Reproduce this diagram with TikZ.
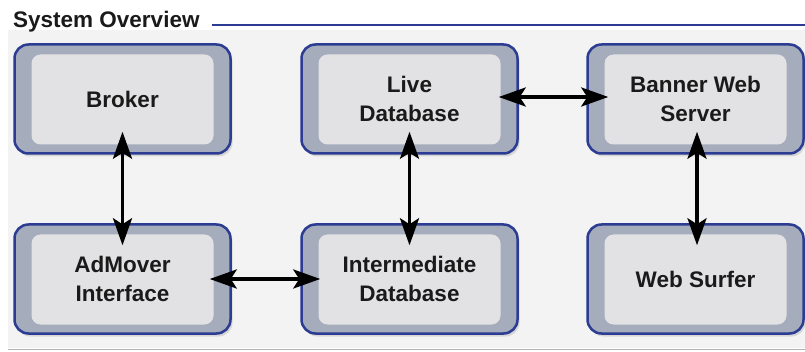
\documentclass[tikz,border=0pt]{standalone}
\usepackage{fontspec}
\setmainfont{Liberation Sans}
\usetikzlibrary{arrows.meta,shadows}
\definecolor{boxblue}{HTML}{2B3C92}
\definecolor{boxgray}{HTML}{A5ACBC}
\definecolor{innergray}{HTML}{E2E2E4}
\definecolor{panel}{HTML}{F3F3F3}
\definecolor{txt}{HTML}{1A1A1A}
\tikzset{
  sysbox/.style={draw=boxblue, line width=2.5pt, fill=boxgray, rounded corners=14pt,
    minimum width=216pt, minimum height=109pt, inner sep=0pt, align=center,
    font=\bfseries\fontsize{22.5}{29.5}\selectfont, text=txt,
    drop shadow={shadow xshift=2pt, shadow yshift=-3pt, opacity=0.25, fill=gray},
    path picture={\fill[innergray, rounded corners=9pt]
      ([shift={(17pt,-10pt)}]path picture bounding box.north west) rectangle
      ([shift={(-17pt,9pt)}]path picture bounding box.south east);}},
  conn/.style={line width=3.5pt, black, {Stealth[length=27pt,width=19pt,inset=6pt]}-{Stealth[length=27pt,width=19pt,inset=6pt]}}
}
\begin{document}
\begin{tikzpicture}[x=1pt,y=-1pt]
\useasboundingbox (0,0) rectangle (805,352);
\fill[white] (0,0) rectangle (805,352);
\fill[panel] (8,30) rectangle (805,348);
\draw[gray!60, line width=1pt] (8,349.5) -- (805,349.5);
\node[anchor=base west, font=\bfseries\fontsize{22.5}{26}\selectfont, text=txt, inner sep=0pt] (title) at (13,28) {System Overview};
\coordinate (lineA) at (212,25);
\coordinate (lineB) at (805,25);
\draw[boxblue, line width=2.5pt] (lineA) -- (lineB);
\node[sysbox] (broker) at (122.5,99) {Broker};
\node[sysbox] (live) at (409.5,99) {Live\\Database};
\node[sysbox] (banner) at (695.5,99) {Banner Web\\Server};
\node[sysbox] (admover) at (122.5,279) {AdMover\\Interface};
\node[sysbox] (inter) at (409.5,279) {Intermediate\\Database};
\node[sysbox] (surfer) at (695.5,279) {Web Surfer};
\draw[conn] ([yshift=23pt]broker.south) -- ([yshift=-22pt]admover.north);
\draw[conn] ([yshift=23pt]live.south) -- ([yshift=-22pt]inter.north);
\draw[conn] ([xshift=1.5pt,yshift=23pt]banner.south) -- ([xshift=1.5pt,yshift=-22pt]surfer.north);
\draw[conn] ([xshift=-20pt,yshift=2pt]live.east) -- ([xshift=22pt,yshift=2pt]banner.west);
\draw[conn] ([xshift=-22pt]admover.east) -- ([xshift=20pt]inter.west);
\end{tikzpicture}
\end{document}
